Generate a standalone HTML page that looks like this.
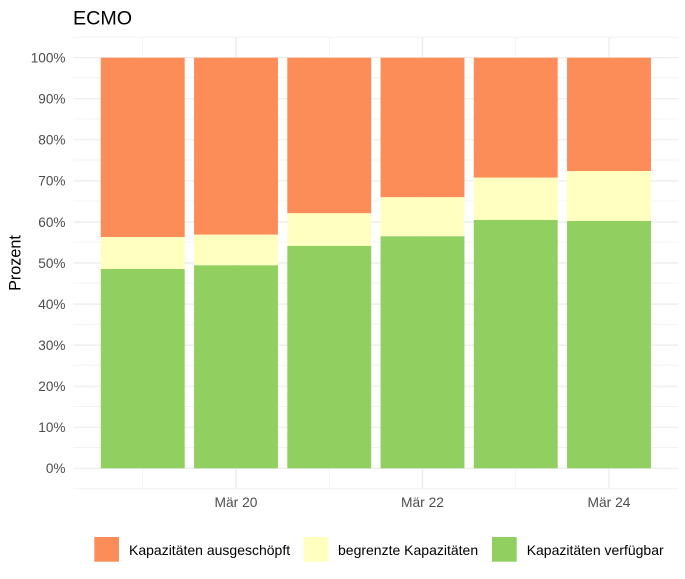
<!DOCTYPE html>
<html><head><meta charset="utf-8"><style>
html,body{margin:0;padding:0;background:#fff;}
svg{display:block;}
text{font-family:"Liberation Sans",Arial,sans-serif;}
</style></head><body>
<svg width="685" height="579" viewBox="0 0 685 579" xmlns="http://www.w3.org/2000/svg">
<rect width="685" height="579" fill="#fff"/>
<!-- minor horizontal grid -->
<g stroke="#EBEBEB" stroke-width="0.6">
<line x1="73.3" x2="678.5" y1="37.2" y2="37.2"/>
<line x1="73.3" x2="678.5" y1="77.8" y2="77.8"/>
<line x1="73.3" x2="678.5" y1="118.9" y2="118.9"/>
<line x1="73.3" x2="678.5" y1="160" y2="160"/>
<line x1="73.3" x2="678.5" y1="201" y2="201"/>
<line x1="73.3" x2="678.5" y1="242" y2="242"/>
<line x1="73.3" x2="678.5" y1="283.1" y2="283.1"/>
<line x1="73.3" x2="678.5" y1="324.2" y2="324.2"/>
<line x1="73.3" x2="678.5" y1="365.2" y2="365.2"/>
<line x1="73.3" x2="678.5" y1="406.3" y2="406.3"/>
<line x1="73.3" x2="678.5" y1="447.3" y2="447.3"/>
<line x1="73.3" x2="678.5" y1="488.8" y2="488.8"/>
<line x1="142.75" x2="142.75" y1="37.2" y2="488.8"/>
<line x1="329.25" x2="329.25" y1="37.2" y2="488.8"/>
<line x1="515.75" x2="515.75" y1="37.2" y2="488.8"/>
</g>
<!-- major grid -->
<g stroke="#EBEBEB" stroke-width="1.2">
<line x1="73.3" x2="678.5" y1="57.7" y2="57.7"/>
<line x1="73.3" x2="678.5" y1="98.8" y2="98.8"/>
<line x1="73.3" x2="678.5" y1="139.8" y2="139.8"/>
<line x1="73.3" x2="678.5" y1="180.9" y2="180.9"/>
<line x1="73.3" x2="678.5" y1="222" y2="222"/>
<line x1="73.3" x2="678.5" y1="263" y2="263"/>
<line x1="73.3" x2="678.5" y1="304.1" y2="304.1"/>
<line x1="73.3" x2="678.5" y1="345.1" y2="345.1"/>
<line x1="73.3" x2="678.5" y1="386.2" y2="386.2"/>
<line x1="73.3" x2="678.5" y1="427.2" y2="427.2"/>
<line x1="73.3" x2="678.5" y1="468.3" y2="468.3"/>
<line x1="236" x2="236" y1="37.2" y2="488.8"/>
<line x1="422.5" x2="422.5" y1="37.2" y2="488.8"/>
<line x1="609" x2="609" y1="37.2" y2="488.8"/>
</g>
<!-- bars -->
<g>
<rect x="100.8" y="57.7" width="83.9" height="179.3" fill="#FC8D59"/>
<rect x="100.8" y="237" width="83.9" height="32" fill="#FFFFBF"/>
<rect x="100.8" y="269" width="83.9" height="199.3" fill="#91CF60"/>

<rect x="194.05" y="57.7" width="83.9" height="177" fill="#FC8D59"/>
<rect x="194.05" y="234.7" width="83.9" height="30.6" fill="#FFFFBF"/>
<rect x="194.05" y="265.3" width="83.9" height="203" fill="#91CF60"/>

<rect x="287.3" y="57.7" width="83.9" height="155.6" fill="#FC8D59"/>
<rect x="287.3" y="213.3" width="83.9" height="32.7" fill="#FFFFBF"/>
<rect x="287.3" y="246" width="83.9" height="222.3" fill="#91CF60"/>

<rect x="380.55" y="57.7" width="83.9" height="139.6" fill="#FC8D59"/>
<rect x="380.55" y="197.3" width="83.9" height="39" fill="#FFFFBF"/>
<rect x="380.55" y="236.3" width="83.9" height="232" fill="#91CF60"/>

<rect x="473.8" y="57.7" width="83.9" height="120" fill="#FC8D59"/>
<rect x="473.8" y="177.7" width="83.9" height="42.3" fill="#FFFFBF"/>
<rect x="473.8" y="220" width="83.9" height="248.3" fill="#91CF60"/>

<rect x="567.05" y="57.7" width="83.9" height="113.3" fill="#FC8D59"/>
<rect x="567.05" y="171" width="83.9" height="50" fill="#FFFFBF"/>
<rect x="567.05" y="221" width="83.9" height="247.3" fill="#91CF60"/>
</g>
<!-- title -->
<text x="73" y="24.5" font-size="19.7" fill="#000">ECMO</text>
<!-- y tick labels -->
<g font-size="13.6" fill="#4D4D4D" text-anchor="end">
<text x="65.5" y="62.5">100%</text>
<text x="65.5" y="103.6">90%</text>
<text x="65.5" y="144.6">80%</text>
<text x="65.5" y="185.7">70%</text>
<text x="65.5" y="226.8">60%</text>
<text x="65.5" y="267.8">50%</text>
<text x="65.5" y="308.9">40%</text>
<text x="65.5" y="349.9">30%</text>
<text x="65.5" y="391">20%</text>
<text x="65.5" y="432">10%</text>
<text x="65.5" y="473.1">0%</text>
</g>
<!-- x tick labels -->
<g font-size="13.8" fill="#4D4D4D" text-anchor="middle">
<text x="236" y="507">Mär 20</text>
<text x="422.5" y="507">Mär 22</text>
<text x="609" y="507">Mär 24</text>
</g>
<!-- y axis title -->
<text transform="translate(20.5,263) rotate(-90)" font-size="16.2" fill="#000" text-anchor="middle">Prozent</text>
<!-- legend -->
<rect x="94.3" y="537" width="24.7" height="24.7" fill="#FC8D59"/>
<text x="129" y="555" font-size="14" fill="#000">Kapazitäten ausgeschöpft</text>
<rect x="303.5" y="537" width="24.7" height="24.7" fill="#FFFFBF"/>
<text x="338" y="555" font-size="14" fill="#000">begrenzte Kapazitäten</text>
<rect x="492" y="537" width="24.7" height="24.7" fill="#91CF60"/>
<text x="526.7" y="555" font-size="14" fill="#000">Kapazitäten verfügbar</text>
</svg>
</body></html>
